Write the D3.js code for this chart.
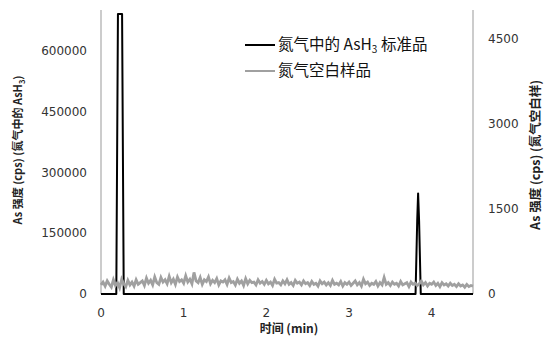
<!DOCTYPE html>
<html>
<head>
<meta charset="utf-8">
<script src="https://cdn.jsdelivr.net/npm/d3@7"></script>
<style>
  body { margin: 0; background: #fff; }
  svg { display: block; }
</style>
</head>
<body>
<div id="chart"></div>
<script>
// AsH3 standard in nitrogen (left axis, cps): [time min, intensity]
const stdTime = [0, 0.185, 0.205, 0.255, 0.275, 3.805, 3.825, 3.836, 3.848, 3.868, 4.5];
const stdCps  = [0, 0, 690000, 690000, 0, 0, 180000, 248000, 180000, 0, 0];

// nitrogen blank (right axis, cps), sampled every 0.025 min from 0 to 4.5
const blankStep = 0.025;
const blankCps = [
  160, 210, 140, 230, 170, 120, 250, 150, 200, 110, 260, 180, 130, 240, 160, 210, 140, 250, 170, 200,
  230, 150, 280, 190, 240, 160, 300, 200, 170, 290, 210, 250, 180, 310, 200, 260, 170, 300, 220, 250,
  190, 320, 210, 260, 180, 380, 230, 200, 290, 170, 250, 220, 300, 180, 240, 200, 270, 160, 230, 210,
  250, 170, 280, 200, 220, 160, 260, 190, 230, 150, 270, 180, 240, 200, 210, 160, 250, 190, 220, 170,
  240, 180, 210, 150, 260, 190, 200, 160, 230, 180, 250, 170, 200, 150, 240, 190, 210, 160, 230, 180,
  200, 150, 220, 170, 190, 140, 230, 180, 210, 160, 200, 150, 240, 170, 190, 160, 220, 140, 200, 170,
  210, 150, 190, 230, 160, 200, 140, 260, 180, 210, 150, 190, 170, 220, 140, 200, 160, 290, 170, 200,
  150, 210, 170, 190, 140, 220, 160, 180, 200, 130, 210, 170, 190, 150, 180, 230, 160, 200, 140, 190,
  170, 210, 150, 190, 130, 200, 160, 180, 140, 190, 150, 170, 130, 180, 140, 160, 120, 170, 130, 150,
  140
];

const xTicks = [0, 1, 2, 3, 4];
const leftTicks = [0, 150000, 300000, 450000, 600000];
const rightTicks = [0, 1500, 3000, 4500];
const legendNames = ["氮气中的 AsH", "氮气空白样品"];

const w = 545, h = 337;
const plotL = 101, plotR = 473, plotT = 10, plotB = 294;

const svg = d3.select("#chart").append("svg")
  .attr("width", w).attr("height", h);

const x = d3.scaleLinear().domain([0, 4.5]).range([plotL, plotR]);
const yL = d3.scaleLinear().domain([0, 700000]).range([plotB, plotT]);
const yR = d3.scaleLinear().domain([0, 5000]).range([plotB, plotT]);

const tickFont = "'DejaVu Sans', Verdana, sans-serif";
const cjkFont = "'Noto Sans CJK SC', 'Noto Sans', sans-serif";

// axes lines
svg.append("line").attr("x1", plotL).attr("x2", plotL).attr("y1", plotT).attr("y2", plotB)
  .attr("stroke", "#999").attr("stroke-width", 1);
svg.append("line").attr("x1", plotR).attr("x2", plotR).attr("y1", plotT).attr("y2", plotB)
  .attr("stroke", "#999").attr("stroke-width", 1);

// tick labels
svg.selectAll(".lt").data(leftTicks).enter().append("text")
  .attr("x", 87).attr("y", d => yL(d)).attr("dy", "0.36em")
  .attr("text-anchor", "end")
  .style("font", "12px " + tickFont).attr("fill", "#333")
  .text(d => d);

svg.selectAll(".rt").data(rightTicks).enter().append("text")
  .attr("x", 488).attr("y", d => yR(d)).attr("dy", "0.36em")
  .attr("text-anchor", "start")
  .style("font", "12px " + tickFont).attr("fill", "#333")
  .text(d => d);

svg.selectAll(".xt").data(xTicks).enter().append("text")
  .attr("x", d => x(d)).attr("y", 317)
  .attr("text-anchor", "middle")
  .style("font", "12px " + tickFont).attr("fill", "#333")
  .text(d => d);

// series
const stdData = stdTime.map((t, i) => [t, stdCps[i]]);
const blankData = blankCps.map((v, i) => [i * blankStep, v]);

svg.append("path").datum(stdData)
  .attr("fill", "none").attr("stroke", "#000").attr("stroke-width", 2)
  .attr("stroke-linejoin", "round")
  .attr("d", d3.line().x(d => x(d[0])).y(d => yL(d[1])));

svg.append("path").datum(blankData)
  .attr("fill", "none").attr("stroke", "#a0a0a0").attr("stroke-width", 2.8)
  .attr("d", d3.line().x(d => x(d[0])).y(d => yR(d[1])));

// axis titles
svg.append("text")
  .attr("x", 289).attr("y", 333).attr("text-anchor", "middle")
  .style("font", "bold 12px " + cjkFont).attr("fill", "#222")
  .text("时间 (min)");

const lt = svg.append("text")
  .attr("transform", "translate(22,150) rotate(-90)")
  .attr("text-anchor", "middle")
  .style("font", "bold 11px " + cjkFont).attr("fill", "#222");
lt.append("tspan").text("As 强度 (cps) (氮气中的 AsH");
lt.append("tspan").attr("dy", 3).style("font-size", "7.5px").text("3");
lt.append("tspan").attr("dy", -3).text(")");

svg.append("text")
  .attr("transform", "translate(536,155) rotate(-90)")
  .attr("text-anchor", "middle").attr("dy", "0.35em")
  .style("font", "bold 12.5px " + cjkFont).attr("fill", "#222")
  .text("As 强度 (cps) (氮气空白样)");

// legend
const lg = svg.append("g");
lg.append("line").attr("x1", 245).attr("x2", 275).attr("y1", 45).attr("y2", 45)
  .attr("stroke", "#000").attr("stroke-width", 2);
lg.append("line").attr("x1", 245).attr("x2", 275).attr("y1", 71).attr("y2", 71)
  .attr("stroke", "#a0a0a0").attr("stroke-width", 2);
const t1 = lg.append("text").attr("x", 278).attr("y", 50)
  .style("font", "15.5px " + cjkFont).attr("fill", "#111");
t1.append("tspan").text(legendNames[0]);
t1.append("tspan").attr("dy", 3).style("font-size", "10px").text("3");
t1.append("tspan").attr("dy", -3).text(" 标准品");
lg.append("text").attr("x", 278).attr("y", 76)
  .style("font", "15.5px " + cjkFont).attr("fill", "#111")
  .text(legendNames[1]);
</script>
</body>
</html>
